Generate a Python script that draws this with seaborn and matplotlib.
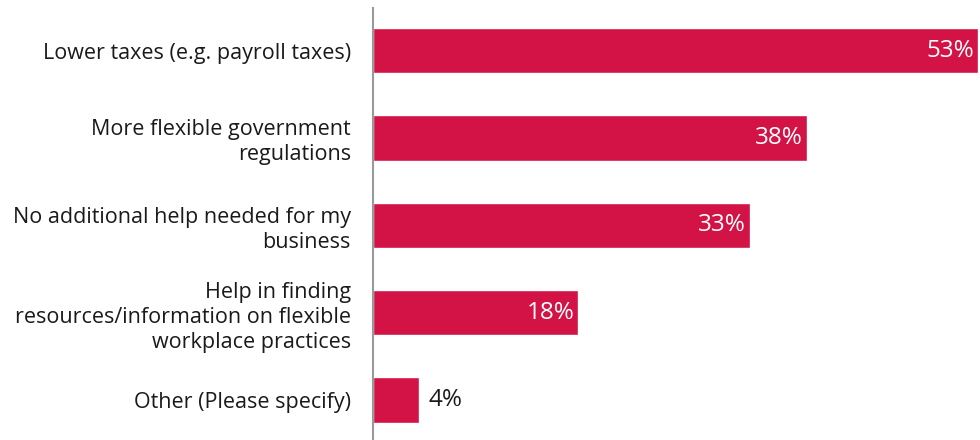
import matplotlib
matplotlib.use("Agg")
import matplotlib.pyplot as plt
import seaborn as sns
import pandas as pd

categories = [
    "Lower taxes (e.g. payroll taxes)",
    "More flexible government\nregulations",
    "No additional help needed for my\nbusiness",
    "Help in finding\nresources/information on flexible\nworkplace practices",
    "Other (Please specify)",
]
values = [53, 38, 33, 18, 4]
value_labels = ["53%", "38%", "33%", "18%", "4%"]

BAR_COLOR = "#D31245"

sns.set_theme(style="white")
plt.rcParams["font.family"] = ["Open Sans", "DejaVu Sans"]

df = pd.DataFrame({"category": categories, "value": values})

fig = plt.figure(figsize=(9.8, 4.4), dpi=100)
ax = fig.add_axes([0.3806, 0.0, 0.998 - 0.3806, 0.982])

sns.barplot(data=df, x="value", y="category", orient="h", color=BAR_COLOR,
            saturation=1, width=0.52, ax=ax)

ax.set_xlim(0, 53)
ax.set_ylim(4.46, -0.49)
ax.set_xlabel("")
ax.set_ylabel("")
ax.set_xticks([])
ax.tick_params(axis="y", length=0, pad=16, labelsize=15.5, colors="#1a1a1a")
for lbl in ax.get_yticklabels():
    lbl.set_horizontalalignment("right")
    lbl.set_multialignment("right")
    lbl.set_linespacing(1.25)

for side in ["top", "right", "bottom"]:
    ax.spines[side].set_visible(False)
ax.spines["left"].set_color("#999999")
ax.spines["left"].set_linewidth(1.5)

for i, (v, txt) in enumerate(zip(values, value_labels)):
    if v >= 10:
        ax.annotate(txt, (v, i), xytext=(-3, 0), textcoords="offset points",
                    ha="right", va="center", color="white", fontsize=17.5)
    else:
        ax.annotate(txt, (v, i), xytext=(7, 0), textcoords="offset points",
                    ha="left", va="center", color="#1a1a1a", fontsize=17.5)

fig.savefig("out.png", dpi=100)
